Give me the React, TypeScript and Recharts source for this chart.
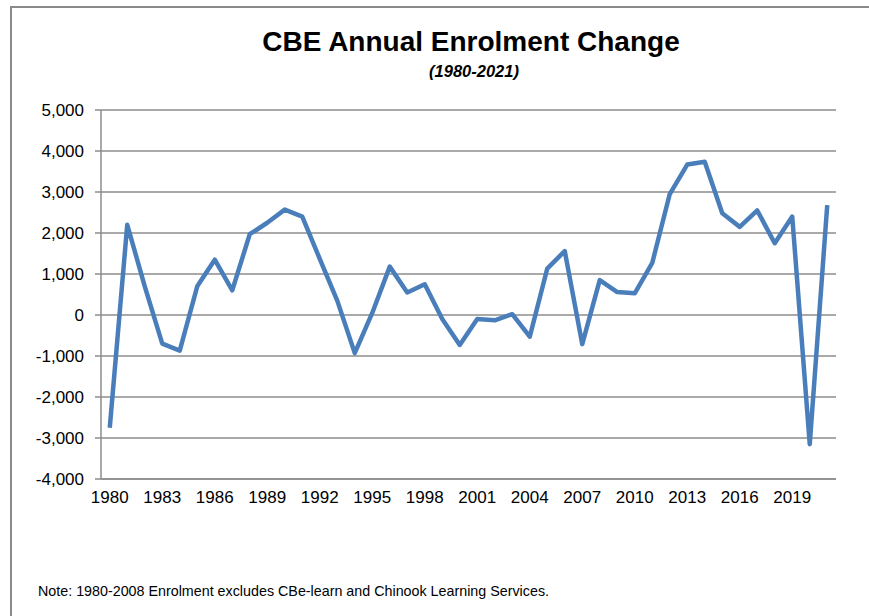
import React from 'react';
import { LineChart, Line, XAxis, YAxis, CartesianGrid } from 'recharts';

// Annual enrolment change
const years = [
  '1980', '1981', '1982', '1983', '1984', '1985', '1986', '1987', '1988', '1989',
  '1990', '1991', '1992', '1993', '1994', '1995', '1996', '1997', '1998', '1999',
  '2000', '2001', '2002', '2003', '2004', '2005', '2006', '2007', '2008', '2009',
  '2010', '2011', '2012', '2013', '2014', '2015', '2016', '2017', '2018', '2019',
  '2020', '2021',
];
const changes = [
  -2750, 2200, 700, -700, -870, 700, 1350, 600, 1970, 2250,
  2570, 2400, 1370, 350, -930, 50, 1180, 550, 750, -100,
  -730, -100, -130, 20, -530, 1130, 1560, -710, 850, 560,
  530, 1270, 2950, 3670, 3740, 2480, 2150, 2550, 1750, 2400,
  -3150, 2680,
];
const yTicks = [-4000, -3000, -2000, -1000, 0, 1000, 2000, 3000, 4000, 5000];

const title = 'CBE Annual Enrolment Change';
const subtitle = '(1980-2021)';
const note = 'Note: 1980-2008 Enrolment excludes CBe-learn and Chinook Learning Services.';

const data = years.map((year, i) => ({ year, change: changes[i] }));

const FONT = '"Liberation Sans", Arial, sans-serif';
const GRID = '#8c8c8c';

export default function App() {
  return (
    <div
      style={{
        position: 'absolute',
        left: 0,
        top: 0,
        width: 869,
        height: 616,
        overflow: 'hidden',
        background: '#fff',
        fontFamily: FONT,
      }}
    >
      {/* frame: only the left and top edges fall inside the picture */}
      <div
        style={{
          position: 'absolute',
          left: 10,
          top: 6,
          width: 900,
          height: 700,
          borderLeft: '2px solid #8a8a8a',
          borderTop: '2px solid #8a8a8a',
        }}
      />
      <svg
        width={869}
        height={616}
        style={{ position: 'absolute', left: 0, top: 0, pointerEvents: 'none' }}
      >
        <text x={471} y={51} textAnchor="middle" fontSize={28} fontWeight="bold" fill="#000">
          {title}
        </text>
        <text
          x={474}
          y={77}
          textAnchor="middle"
          fontSize={16.5}
          fontWeight="bold"
          fontStyle="italic"
          fill="#000"
        >
          {subtitle}
        </text>
        <text x={38} y={596} fontSize={14.3} fill="#000">
          {note}
        </text>
      </svg>
      <div style={{ position: 'absolute', left: 0, top: 0 }}>
        <LineChart
          width={869}
          height={616}
          data={data}
          margin={{ top: 110, right: 33, left: 1, bottom: 107 }}
        >
          <CartesianGrid vertical={false} stroke={GRID} strokeWidth={1.5} />
          <XAxis
            dataKey="year"
            interval={2}
            height={30}
            padding={{ left: 8.75, right: 8.75 }}
            tickLine={false}
            tickSize={0}
            tickMargin={12}
            axisLine={{ stroke: GRID, strokeWidth: 1.5 }}
            tick={{ fontSize: 17, fill: '#000', fontFamily: FONT }}
          />
          <YAxis
            width={100}
            domain={[-4000, 5000]}
            ticks={yTicks}
            interval={0}
            tickSize={6}
            tickMargin={11}
            tickFormatter={(v: number) => v.toLocaleString('en-US')}
            axisLine={{ stroke: GRID, strokeWidth: 1.5 }}
            tickLine={{ stroke: GRID, strokeWidth: 1.5 }}
            tick={{ fontSize: 17, fill: '#000', fontFamily: FONT }}
          />
          <Line
            type="linear"
            dataKey="change"
            stroke="#4a7ebb"
            strokeWidth={4.5}
            strokeLinejoin="round"
            dot={false}
            activeDot={false}
            isAnimationActive={false}
          />
        </LineChart>
      </div>
    </div>
  );
}
